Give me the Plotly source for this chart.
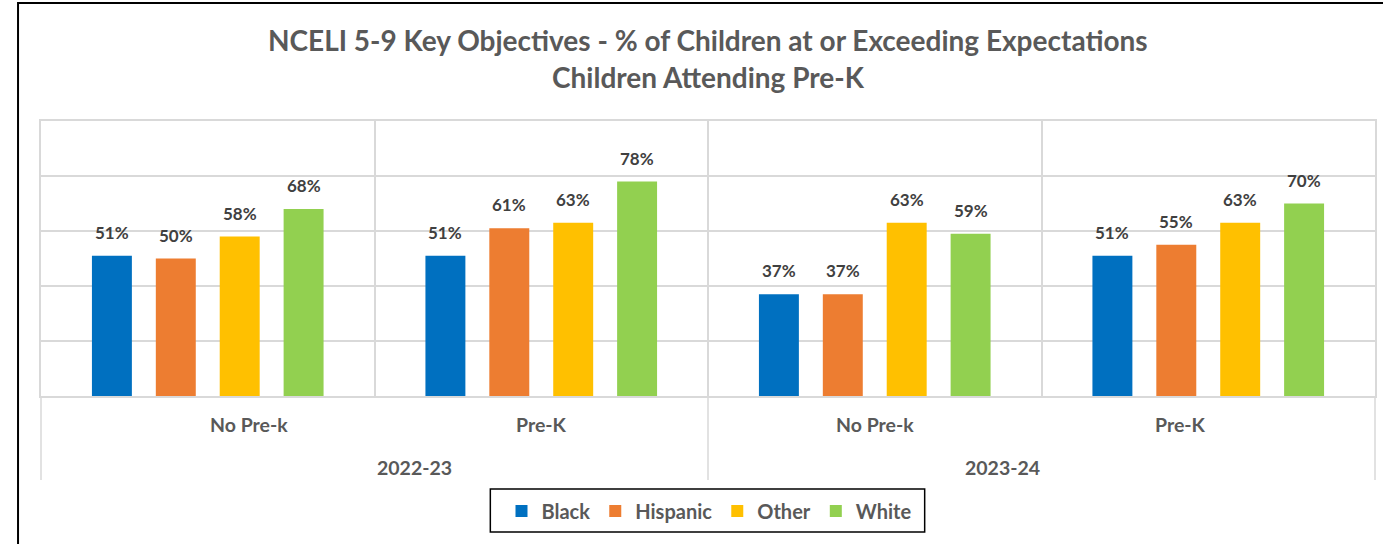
import plotly.graph_objects as go

# ---- data ----
years = ["2022-23", "2023-24"]
subcats = ["No Pre-k", "Pre-K", "No Pre-k", "Pre-K"]
cat_year = ["2022-23", "2022-23", "2023-24", "2023-24"]
series_names = ["Black", "Hispanic", "Other", "White"]
black = [51, 51, 37, 51]
hispanic = [50, 61, 37, 55]
other = [58, 63, 63, 63]
white = [68, 78, 59, 70]
series_values = [black, hispanic, other, white]
colors = ["#0070C0", "#ED7D31", "#FFC000", "#92D050"]

FONT = "Lato"
TXT_DARK = "#404040"
TXT = "#595959"
GRID = "#D9D9D9"

n_cat = len(subcats)
n_ser = len(series_names)
pitch = 0.1916
bar_w = 0.1198
xs = list(range(n_cat))
x_min, x_max = -0.5, n_cat - 0.5

OFF = 0  # body margin removed via post_script
W, H = 1383, 544
PL, PR, PT, PB = 41, 1377, 121, 396          # plot area in window pixels
ml, mt = PL - OFF, PT - OFF
mr = W - (PR - OFF)
mb = H - (PB - OFF)
plot_w = PR - PL
plot_h = PB - PT

def py(pix):
    return (PB - pix) / plot_h

def pxw(pix):
    return (pix - PL) / plot_w

def px(xdata):
    return (xdata - x_min) / (x_max - x_min)

fig = go.Figure()
annotations = []
for k, (name, vals, col) in enumerate(zip(series_names, series_values, colors)):
    off = (k - (n_ser - 1) / 2) * pitch
    fig.add_trace(go.Bar(
        name=name, x=xs, y=vals, width=bar_w, offset=off - bar_w / 2,
        marker=dict(color=col, line=dict(width=0)),
        hoverinfo="skip",
    ))
    for xi, v in zip(xs, vals):
        annotations.append(dict(
            x=xi + off, y=v, xref="x", yref="y", text=f"{v}%",
            showarrow=False, yanchor="bottom", yshift=11,
            font=dict(family=FONT, size=17, color=TXT_DARK, weight="bold"),
        ))

# category labels
for xi, lab in zip(xs, subcats):
    annotations.append(dict(
        x=px(xi), y=py(424), xref="paper", yref="paper", text=lab,
        showarrow=False, yanchor="middle",
        font=dict(family=FONT, size=19.5, color=TXT, weight="bold"),
    ))
# year labels
shapes = []
bounds = [x_min]
for yr in years:
    idx = [i for i, c in enumerate(cat_year) if c == yr]
    center = (idx[0] + idx[-1]) / 2
    annotations.append(dict(
        x=px(center), y=py(467), xref="paper", yref="paper", text=yr,
        showarrow=False, yanchor="middle",
        font=dict(family=FONT, size=19.5, color=TXT, weight="bold"),
    ))
    bounds.append(idx[-1] + 0.5)
for b in bounds:
    shapes.append(dict(type="line", xref="paper", yref="paper",
                       x0=px(b), x1=px(b), y0=0, y1=py(480),
                       line=dict(color=GRID, width=1.5)))

# title
annotations.append(dict(
    x=pxw(709), y=py(40), xref="paper", yref="paper",
    text="NCELI 5-9 Key Objectives - % of Children at or Exceeding Expectations",
    showarrow=False, yanchor="middle",
    font=dict(family=FONT, size=28, color=TXT, weight="bold"),
))
annotations.append(dict(
    x=pxw(710), y=py(77), xref="paper", yref="paper",
    text="Children Attending Pre-K",
    showarrow=False, yanchor="middle",
    font=dict(family=FONT, size=28, color=TXT, weight="bold"),
))

# legend box
shapes.append(dict(type="rect", xref="paper", yref="paper",
                   x0=pxw(491), x1=pxw(926), y0=py(532), y1=py(489),
                   line=dict(color="black", width=1.5), fillcolor="rgba(0,0,0,0)"))
# outer chart border
shapes.append(dict(type="rect", xref="paper", yref="paper",
                   x0=pxw(18), x1=pxw(1420), y0=py(600), y1=py(3),
                   line=dict(color="black", width=2), fillcolor="rgba(0,0,0,0)"))

fig.update_layout(
    width=W, height=H, autosize=False,
    margin=dict(l=ml, r=mr, t=mt, b=mb, pad=0),
    paper_bgcolor="white", plot_bgcolor="white",
    barmode="overlay",
    showlegend=True,
    legend=dict(orientation="h", x=pxw(710), xanchor="center", y=py(511), yanchor="middle",
                font=dict(family=FONT, size=20, color=TXT, weight="bold"),
                bgcolor="rgba(0,0,0,0)", borderwidth=0),
    xaxis=dict(range=[x_min, x_max], tickvals=[x_min + i for i in range(n_cat + 1)],
               showticklabels=False, showgrid=True, gridcolor=GRID, gridwidth=1.5,
               zeroline=False, showline=True, linecolor=GRID, linewidth=1.5, mirror=True,
               ticks="", fixedrange=True),
    yaxis=dict(range=[0, 100], dtick=20, showticklabels=False, showgrid=True,
               gridcolor=GRID, gridwidth=1.5, zeroline=False, showline=True,
               linecolor=GRID, linewidth=1.5, mirror=True, ticks="", fixedrange=True),
    annotations=annotations,
    shapes=shapes,
)

fig.write_html("out.html", config={"displayModeBar": False},
               post_script="document.body.style.margin='0';document.body.style.overflow='hidden';")
